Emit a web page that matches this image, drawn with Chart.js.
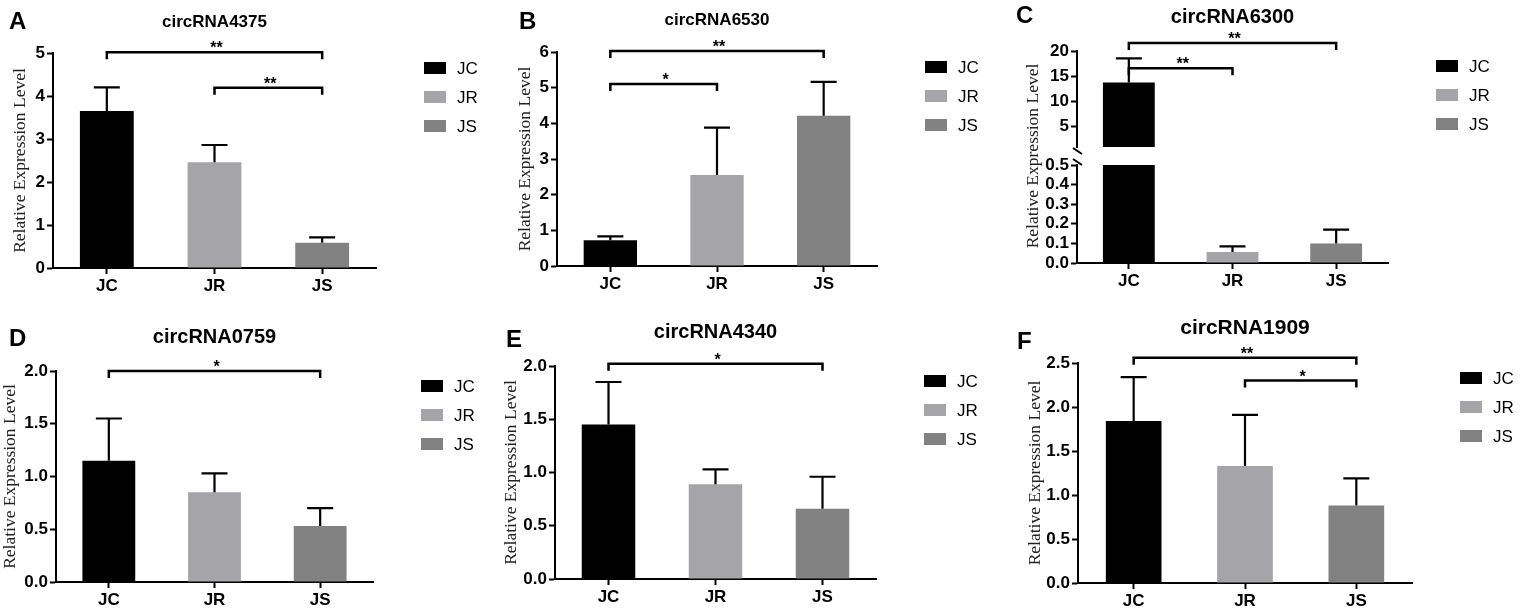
<!DOCTYPE html>
<html>
<head>
<meta charset="utf-8">
<title>circRNA expression</title>
<script src="https://cdn.jsdelivr.net/npm/chart.js@4.4.0/dist/chart.umd.min.js"></script>
<style>
  html, body { margin: 0; padding: 0; background: #fff; }
  body { width: 1527px; height: 611px; position: relative; overflow: hidden; }
  .panel { position: absolute; }
</style>
</head>
<body>
<div class="panel" style="left:0px;top:0px;width:500px;height:300px"><canvas id="chartA"></canvas></div>
<div class="panel" style="left:500px;top:0px;width:490px;height:300px"><canvas id="chartB"></canvas></div>
<div class="panel" style="left:990px;top:0px;width:537px;height:300px"><canvas id="chartCLow"></canvas></div>
<div class="panel" style="left:990px;top:0px;width:537px;height:300px"><canvas id="chartCTop"></canvas></div>
<div class="panel" style="left:0px;top:300px;width:500px;height:311px"><canvas id="chartD"></canvas></div>
<div class="panel" style="left:500px;top:300px;width:500px;height:311px"><canvas id="chartE"></canvas></div>
<div class="panel" style="left:1000px;top:300px;width:527px;height:311px"><canvas id="chartF"></canvas></div>

<script>
const groups = ['JC', 'JR', 'JS']

// bar heights (mean) and upper error (SD)
const meanA = [3.65, 2.46, 0.59]
const sdA = [0.55, 0.40, 0.12]
const meanB = [0.72, 2.55, 4.21]
const sdB = [0.11, 1.33, 0.95]
const meanC = [13.75, 0.056, 0.10]
const sdC = [4.81, 0.029, 0.07]
const meanD = [1.15, 0.85, 0.53]
const sdD = [0.40, 0.18, 0.17]
const meanE = [1.45, 0.89, 0.66]
const sdE = [0.40, 0.14, 0.30]
const meanF = [1.84, 1.33, 0.88]
const sdF = [0.50, 0.58, 0.31]

// significance brackets: [from, to, height, label]
const sigA = [[0, 2, 5.02, '**'], [1, 2, 4.19, '**']]
const sigB = [[0, 2, 6.03, '**'], [0, 1, 5.1, '*']]
const sigC = [[0, 2, 21.6, '**'], [0, 1, 16.6, '**']]
const sigD = [[0, 2, 2.0, '*']]
const sigE = [[0, 2, 2.02, '*']]
const sigF = [[0, 2, 2.56, '**'], [1, 2, 2.30, '*']]

// y axis ticks
const ticksA = [0, 1, 2, 3, 4, 5]
const ticksB = [0, 1, 2, 3, 4, 5, 6]
const ticksCTop = [5, 10, 15, 20]
const ticksCLow = [0, 0.1, 0.2, 0.3, 0.4, 0.5]
const ticksD = [0, 0.5, 1.0, 1.5, 2.0]
const ticksE = [0, 0.5, 1.0, 1.5, 2.0]
const ticksF = [0, 0.5, 1.0, 1.5, 2.0, 2.5]

const barColors = ['#000000', '#a5a5a9', '#828282']
const SANS = "'Liberation Sans', Arial, sans-serif"
const SERIF = "'Liberation Serif', 'Times New Roman', serif"

Chart.defaults.font.family = SANS
Chart.defaults.color = '#000'

/* --- dibujo de anotaciones: barras de error, corchetes, textos --- */
const annotations = (panel, part) => ({
    id: 'annotations',

    afterDatasetsDraw(chart) {

        const { ctx, scales: { x, y } } = chart
        ctx.save()
        ctx.strokeStyle = '#000'
        ctx.lineWidth = 2.2

        // error bars (mean + SD)
        panel.means.forEach((m, i) => {

            if (m < y.min || m > y.max) return
            const bar = chart.getDatasetMeta(i).data[i]
            const y0 = y.getPixelForValue(m)
            const y1 = y.getPixelForValue(m + panel.sds[i])
            ctx.beginPath()
            ctx.moveTo(bar.x, y0)
            ctx.lineTo(bar.x, y1)
            ctx.moveTo(bar.x - 13, y1)
            ctx.lineTo(bar.x + 13, y1)
            ctx.stroke()
        })

        // significance brackets
        ctx.lineWidth = 2.5
        const sig = part.sig || []
        sig.forEach(([a, b, h, label]) => {

            const xa = x.getPixelForValue(a)
            const xb = x.getPixelForValue(b)
            const yb = y.getPixelForValue(h)
            ctx.beginPath()
            ctx.moveTo(xa, yb + 7)
            ctx.lineTo(xa, yb)
            ctx.lineTo(xb, yb)
            ctx.lineTo(xb, yb + 7)
            ctx.stroke()
            ctx.fillStyle = '#000'
            ctx.font = `bold 16px ${SANS}`
            ctx.textAlign = 'center'
            ctx.textBaseline = 'alphabetic'
            ctx.fillText(label, (xa + xb) / 2 + 2, yb + 1)
        })

        // axis break marks (panel C)
        ctx.lineWidth = 2
        if (part.breakBelow) {
            const ax = chart.chartArea.left
            const yy = chart.chartArea.bottom
            ctx.beginPath()
            ctx.moveTo(ax - 4, yy + 1)
            ctx.lineTo(ax + 5, yy + 7)
            ctx.stroke()
        }
        if (part.breakAbove) {
            const ax = chart.chartArea.left
            const yy = chart.chartArea.top
            ctx.beginPath()
            ctx.moveTo(ax - 4, yy - 6)
            ctx.lineTo(ax + 5, yy)
            ctx.stroke()
        }

        ctx.restore()
    },

    afterDraw(chart) {

        if (!part.labels) return
        const { ctx, chartArea } = chart
        const box = panel.box
        ctx.save()
        ctx.fillStyle = '#000'

        // letra del panel
        ctx.font = `bold 24px ${SANS}`
        ctx.textAlign = 'left'
        ctx.textBaseline = 'middle'
        ctx.fillText(panel.letter, panel.letterAt[0] - box.l, panel.letterAt[1] - box.t)

        // titulo
        ctx.font = `bold ${panel.titleSize}px ${SANS}`
        ctx.textAlign = 'center'
        ctx.fillText(panel.title, (chartArea.left + chartArea.right) / 2, panel.titleY - box.t)

        // etiqueta eje y
        const cy = panel.yLabelY !== undefined ? panel.yLabelY - box.t : (chartArea.top + chartArea.bottom) / 2
        ctx.save()
        ctx.translate(panel.yLabelX - box.l, cy)
        ctx.rotate(-Math.PI / 2)
        ctx.font = `17.5px ${SERIF}`
        ctx.fillStyle = '#222'
        ctx.fillText('Relative Expression Level', 0, 0)
        ctx.restore()

        // leyenda
        groups.forEach((g, i) => {

            const ly = chartArea.top + 15 + i * 29
            ctx.fillStyle = barColors[i]
            ctx.fillRect(chartArea.right + 48, ly - 6, 22, 12)
            ctx.fillStyle = '#000'
            ctx.font = `17px ${SANS}`
            ctx.textAlign = 'left'
            ctx.textBaseline = 'middle'
            ctx.fillText(g, chartArea.right + 81, ly + 1)
        })

        ctx.restore()
    }
})

const makeChart = (id, panel, part) => {

    const box = panel.box
    const p = part.plot
    const showX = part.showX !== false
    const xh = showX ? 28 : 0

    return new Chart(document.getElementById(id), {
        type: 'bar',
        data: {
            labels: groups,
            datasets: groups.map((g, i) => ({
                label: g,
                data: groups.map((_, j) => (j === i ? panel.means[i] : null)),
                backgroundColor: barColors[i],
                borderWidth: 0,
                barPercentage: 0.5,
                categoryPercentage: 1,
                clip: 0
            }))
        },
        options: {
            responsive: true,
            maintainAspectRatio: false,
            animation: false,
            layout: {
                padding: {
                    left: 0,
                    top: p.t - box.t,
                    right: box.l + box.w - p.r,
                    bottom: box.t + box.h - p.b - xh
                }
            },
            plugins: { legend: { display: false }, tooltip: { enabled: false } },
            scales: {
                x: {
                    display: showX,
                    stacked: true,
                    offset: true,
                    grid: { drawOnChartArea: false, offset: false, tickLength: 6, tickWidth: 2, tickColor: '#000' },
                    border: { display: true, color: '#000', width: 2 },
                    ticks: { color: '#000', padding: 2, font: { size: 17, weight: 'bold' } },
                    afterFit: (s) => { s.height = xh }
                },
                y: {
                    min: part.min,
                    max: part.max,
                    afterBuildTicks: (s) => { s.ticks = part.ticks.map(v => ({ value: v })) },
                    grid: { drawOnChartArea: false, tickLength: 6, tickWidth: 2, tickColor: '#000' },
                    border: { display: true, color: '#000', width: 2 },
                    ticks: {
                        color: '#000',
                        padding: 2,
                        autoSkip: false,
                        font: { size: 17, weight: 'bold' },
                        callback: (v) => Number(v).toFixed(part.dec)
                    },
                    afterFit: (s) => { s.width = p.l - box.l }
                }
            }
        },
        plugins: [annotations(panel, part)]
    })
}

const panelA = { box: { l: 0, t: 0, w: 500, h: 300 }, means: meanA, sds: sdA, letter: 'A', letterAt: [9, 22], title: 'circRNA4375', titleSize: 17, titleY: 22, yLabelX: 20 }
const panelB = { box: { l: 500, t: 0, w: 490, h: 300 }, means: meanB, sds: sdB, letter: 'B', letterAt: [519, 22], title: 'circRNA6530', titleSize: 17, titleY: 20, yLabelX: 525 }
const panelC = { box: { l: 990, t: 0, w: 537, h: 300 }, means: meanC, sds: sdC, letter: 'C', letterAt: [1016, 16], title: 'circRNA6300', titleSize: 20, titleY: 17, yLabelX: 1033, yLabelY: 156 }
const panelD = { box: { l: 0, t: 300, w: 500, h: 311 }, means: meanD, sds: sdD, letter: 'D', letterAt: [9, 339], title: 'circRNA0759', titleSize: 20, titleY: 337, yLabelX: 10 }
const panelE = { box: { l: 500, t: 300, w: 500, h: 311 }, means: meanE, sds: sdE, letter: 'E', letterAt: [506, 340], title: 'circRNA4340', titleSize: 20, titleY: 332, yLabelX: 511 }
const panelF = { box: { l: 1000, t: 300, w: 527, h: 311 }, means: meanF, sds: sdF, letter: 'F', letterAt: [1017, 342], title: 'circRNA1909', titleSize: 21, titleY: 328, yLabelX: 1035 }

document.addEventListener('DOMContentLoaded', () => {

    makeChart('chartA', panelA, { plot: { l: 53, r: 376, t: 53, b: 268 }, min: 0, max: 5, ticks: ticksA, dec: 0, sig: sigA, labels: true })
    makeChart('chartB', panelB, { plot: { l: 557, r: 877, t: 52, b: 266 }, min: 0, max: 6, ticks: ticksB, dec: 0, sig: sigB, labels: true })
    makeChart('chartCLow', panelC, { plot: { l: 1077, r: 1388, t: 165, b: 263 }, min: 0, max: 0.5, ticks: ticksCLow, dec: 1, breakAbove: true })
    makeChart('chartCTop', panelC, { plot: { l: 1077, r: 1388, t: 51, b: 147 }, min: 1, max: 20, ticks: ticksCTop, dec: 0, sig: sigC, labels: true, showX: false, breakBelow: true })
    makeChart('chartD', panelD, { plot: { l: 56, r: 373, t: 371, b: 582 }, min: 0, max: 2, ticks: ticksD, dec: 1, sig: sigD, labels: true })
    makeChart('chartE', panelE, { plot: { l: 555, r: 876, t: 366, b: 579 }, min: 0, max: 2, ticks: ticksE, dec: 1, sig: sigE, labels: true })
    makeChart('chartF', panelF, { plot: { l: 1078, r: 1412, t: 363, b: 583 }, min: 0, max: 2.5, ticks: ticksF, dec: 1, sig: sigF, labels: true })
})
</script>
</body>
</html>
